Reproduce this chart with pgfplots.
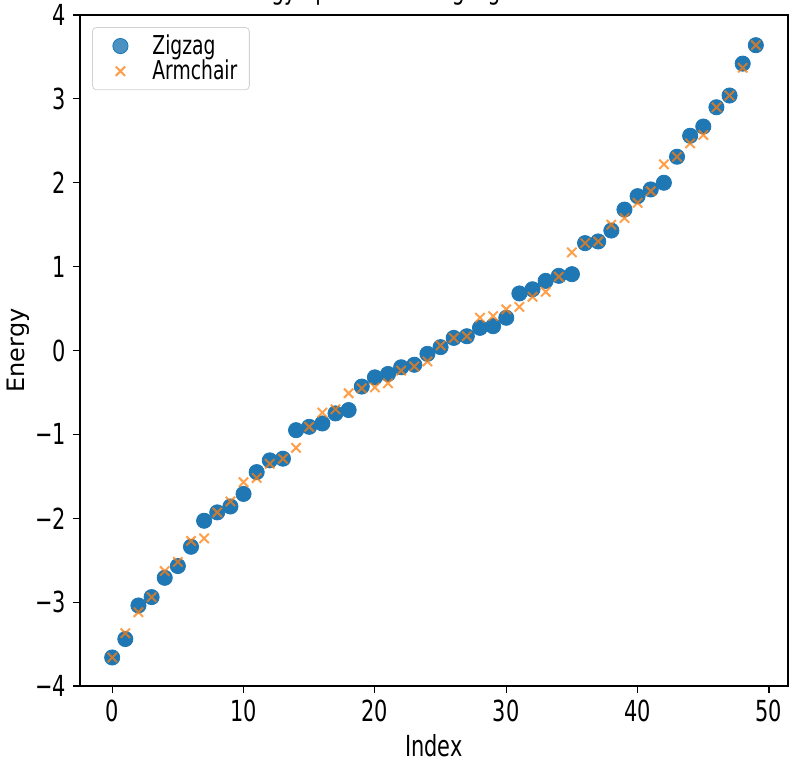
\documentclass[border=0pt]{standalone}
\usepackage{fontspec}
\setmainfont{DejaVu Sans}
\newfontfamily\narrow{DejaVu Sans}[FakeStretch=0.72]
\usepackage{pgfplots}
\usepackage{pgfplotstable}
\pgfplotsset{compat=1.18}
\definecolor{tabblue}{HTML}{1F77B4}
\definecolor{taborange}{HTML}{FF7F0E}

% index, zigzag energy, armchair energy
\pgfplotstableread{
idx zig arm
0 -3.66 -3.66
1 -3.44 -3.37
2 -3.04 -3.12
3 -2.94 -2.94
4 -2.71 -2.63
5 -2.57 -2.52
6 -2.34 -2.27
7 -2.03 -2.24
8 -1.93 -1.93
9 -1.86 -1.80
10 -1.71 -1.57
11 -1.45 -1.52
12 -1.31 -1.35
13 -1.29 -1.29
14 -0.95 -1.16
15 -0.91 -0.91
16 -0.87 -0.74
17 -0.75 -0.70
18 -0.71 -0.51
19 -0.43 -0.45
20 -0.32 -0.44
21 -0.28 -0.39
22 -0.20 -0.24
23 -0.17 -0.19
24 -0.04 -0.13
25 0.04 0.06
26 0.15 0.15
27 0.17 0.17
28 0.27 0.39
29 0.29 0.41
30 0.39 0.49
31 0.68 0.52
32 0.73 0.64
33 0.83 0.70
34 0.89 0.88
35 0.91 1.17
36 1.28 1.28
37 1.30 1.30
38 1.43 1.50
39 1.68 1.58
40 1.84 1.76
41 1.92 1.90
42 2.00 2.22
43 2.31 2.31
44 2.56 2.47
45 2.67 2.57
46 2.90 2.90
47 3.04 3.04
48 3.42 3.37
49 3.64 3.64
}\energies

\begin{document}
\begin{tikzpicture}
\begin{axis}[scale only axis,width=354pt,height=335.5pt,
  xmin=-2.45,xmax=51.45,ymin=-4,ymax=4,
  xtick={0,10,20,30,40,50},ytick={-4,-3,-2,-1,0,1,2,3,4},
  yticklabels={−4,−3,−2,−1,0,1,2,3,4},
  /pgf/number format/assume math mode=true,
  tick align=outside,major tick length=3.5pt,
  tick style={black,line width=0.6pt},axis line style={line width=0.6pt},
  xtick pos=bottom,ytick pos=left,
  tick label style={font=\narrow\fontsize{14.5}{16}\selectfont},
  xlabel={Index},ylabel={Energy},
  xlabel style={font=\narrow\fontsize{14.5}{16}\selectfont,
    at={(axis description cs:0.5,-0.0894)},anchor=center},
  ylabel style={font=\fontsize{12}{14}\selectfont,
    at={(axis description cs:-0.0876,0.5)},anchor=center},
  title={Energy Spectrum of Zigzag and Armchair},
  every axis title/.style={font=\narrow\fontsize{14}{16}\selectfont,
    at={(axis description cs:0.5,1)},anchor=base,yshift=7.5pt},
  legend image code/.code={%
    \draw[#1] plot coordinates {(11pt,0pt)};
    \path[draw=none,fill=none] (0pt,0pt) -- (24pt,0pt);},
  legend style={at={(0.017,0.982)},anchor=north west,draw=gray!35,
    rounded corners=2pt,fill=white,fill opacity=0.8,text opacity=1,
    font=\narrow\fontsize{13}{13}\selectfont,inner sep=3pt,
    nodes={inner ysep=0.6pt,inner xsep=3pt}},
  legend cell align=left]
\addplot[only marks,mark=*,mark size=3.8pt,color=tabblue]
  table[x=idx,y=zig]{\energies};
\addplot[only marks,mark=x,mark size=3.3pt,color=taborange,
  mark options={line width=1pt},opacity=0.75]
  table[x=idx,y=arm]{\energies};
\legend{Zigzag,Armchair}
\coordinate (bl) at (rel axis cs:0,0);
\coordinate (tr) at (rel axis cs:1,1);
\end{axis}
\pgfresetboundingbox
\path[use as bounding box] ([shift={(-40pt,-39pt)}]bl) rectangle ([shift={(1pt,7.5pt)}]tr);
\end{tikzpicture}
\end{document}
